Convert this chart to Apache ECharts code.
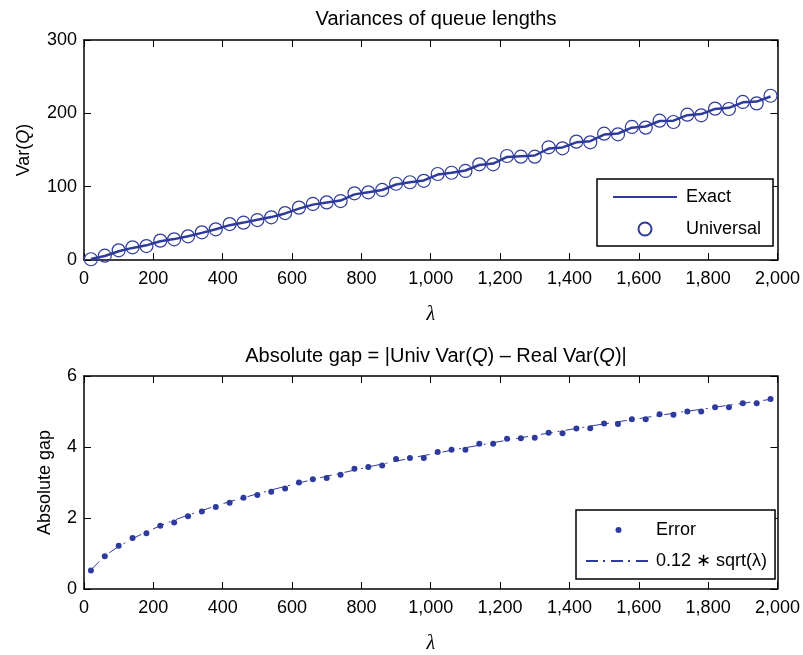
<!DOCTYPE html>
<html>
<head>
<meta charset="utf-8">
<script src="https://cdn.jsdelivr.net/npm/echarts@6/dist/echarts.min.js"></script>
<style>html,body{margin:0;padding:0;background:#fff}#c{width:803px;height:655px}</style>
</head>
<body>
<div id="c"></div>
<script>
const lambdas = [20,60,100,140,180,220,260,300,340,380,420,460,500,540,580,620,660,700,740,780,820,860,900,940,980,1020,1060,1100,1140,1180,1220,1260,1300,1340,1380,1420,1460,1500,1540,1580,1620,1660,1700,1740,1780,1820,1860,1900,1940,1980];
const exactVar = [1.5,5.5,12,16.5,20,25.5,28.5,32.5,37,42,47.5,51,55,58.5,63.5,70,75.5,78.5,81,89.5,92.5,95.5,103,106,108.5,116.5,119,122,129.5,131.5,140.5,141.5,142.5,152,153.5,160.5,162,171,172.5,180.5,182,189.5,190,197.5,199,206,207.5,215,216,223];
const universalVar = [1,5.9,13.2,17.3,19,26.4,28.2,32.3,37.7,41.8,49,50.9,54.5,58.2,64,71.4,76.4,78.6,80.4,90.9,92.3,95.5,104,106,108,117.3,119,121.4,130.5,130.5,141.8,140.9,140.9,153.7,152.3,161.4,160.5,172.3,171.4,181.4,180.5,190,188.2,198.2,197.3,206.4,205.9,215.5,213.6,224];
const errorGap = [0.52,0.92,1.22,1.44,1.57,1.78,1.87,2.05,2.18,2.31,2.43,2.57,2.65,2.74,2.83,3.0,3.09,3.13,3.22,3.39,3.44,3.48,3.66,3.69,3.69,3.86,3.92,3.92,4.09,4.09,4.23,4.25,4.26,4.40,4.39,4.52,4.53,4.66,4.65,4.78,4.78,4.92,4.91,5.0,5.0,5.12,5.12,5.23,5.23,5.35];
const fitGap = [0.54,0.93,1.20,1.42,1.61,1.78,1.94,2.08,2.21,2.34,2.46,2.57,2.68,2.79,2.89,2.99,3.08,3.18,3.26,3.35,3.44,3.52,3.60,3.68,3.76,3.83,3.91,3.98,4.05,4.12,4.19,4.26,4.33,4.39,4.46,4.52,4.59,4.65,4.71,4.77,4.83,4.89,4.95,5.01,5.06,5.12,5.18,5.23,5.29,5.34];
const xTicks = {min: 0, max: 2000, interval: 200};
const topYTicks = {min: 0, max: 300, interval: 100};
const botYTicks = {min: 0, max: 6, interval: 2};

const FONT = '"Liberation Sans", Arial, Helvetica, sans-serif';
const BLUE = '#2f3b9c';
const pair = (xs, ys) => xs.map((x, i) => [x, ys[i]]);
const fmt = v => v.toLocaleString('en-US');

function xAx(grid, bottom) {
  return {
    type: 'value', gridIndex: grid, position: bottom ? 'bottom' : 'top',
    min: xTicks.min, max: xTicks.max, interval: xTicks.interval,
    axisLine: {show: true, onZero: false, lineStyle: {color: '#000', width: 1.5}},
    axisTick: {show: true, inside: true, length: 7, lineStyle: {color: '#000', width: 1}},
    axisLabel: {show: bottom, margin: 10, color: '#000', fontSize: 18, fontFamily: FONT, formatter: fmt},
    splitLine: {show: false},
    name: bottom ? 'λ' : '', nameLocation: 'middle', nameGap: 45,
    nameTextStyle: {color: '#000', fontSize: 20, fontStyle: 'italic', fontFamily: '"Liberation Serif", "DejaVu Serif", serif'}
  };
}
function yAx(grid, left, t, name, gap) {
  return {
    type: 'value', gridIndex: grid, position: left ? 'left' : 'right',
    min: t.min, max: t.max, interval: t.interval,
    axisLine: {show: true, onZero: false, lineStyle: {color: '#000', width: 1.5}},
    axisTick: {show: true, inside: true, length: 7, lineStyle: {color: '#000', width: 1}},
    axisLabel: {show: left, margin: 7, color: '#000', fontSize: 18, fontFamily: FONT},
    splitLine: {show: false},
    name: left ? name : '', nameLocation: 'middle', nameGap: gap, nameRotate: 90,
    nameTextStyle: {color: '#000', fontSize: 18, fontFamily: FONT,
      rich: {i: {fontStyle: 'italic', fontSize: 18, fontFamily: FONT, color: '#000'}}}
  };
}

const chart = echarts.init(document.getElementById('c'), null, {renderer: 'canvas'});
chart.setOption({
  animation: false,
  backgroundColor: '#fff',
  title: [
    {text: 'Variances of queue lengths', left: 431, top: 4, textAlign: 'center',
     textStyle: {fontSize: 20, fontWeight: 'normal', color: '#000', fontFamily: FONT}},
    {text: 'Absolute gap = |Univ Var({i|Q}) – Real Var({i|Q})|', left: 431, top: 341, textAlign: 'center',
     textStyle: {fontSize: 20, fontWeight: 'normal', color: '#000', fontFamily: FONT,
       rich: {i: {fontStyle: 'italic', fontSize: 20, color: '#000', fontFamily: FONT}}}}
  ],
  grid: [
    {left: 84, top: 40, width: 695, height: 220},
    {left: 84, top: 376, width: 695, height: 219}
  ],
  xAxis: [xAx(0, true), xAx(0, false), xAx(1, true), xAx(1, false)],
  yAxis: [yAx(0, true, topYTicks, 'Var({i|Q})', 51), yAx(0, false, topYTicks, '', 0),
          yAx(1, true, botYTicks, 'Absolute gap', 30), yAx(1, false, botYTicks, '', 0)],
  legend: [
    {data: [{name: 'Exact', itemStyle: {opacity: 0}}, 'Universal'], orient: 'vertical', left: 597, top: 179,
     padding: [9, 12, 8, 15], itemWidth: 64, itemHeight: 13, itemGap: 14,
     borderColor: '#000', borderWidth: 1.5, backgroundColor: '#fff', selectedMode: false,
     textStyle: {fontSize: 18, color: '#000', fontFamily: FONT, padding: [0, 0, 0, 4]}},
    {data: ['Error', {name: '0.12 ∗ sqrt(λ)', itemStyle: {opacity: 0}}], orient: 'vertical', left: 576, top: 510,
     padding: [11, 8, 9, 9], itemWidth: 65, itemHeight: 6, itemGap: 13,
     borderColor: '#000', borderWidth: 1.5, backgroundColor: '#fff', selectedMode: false,
     textStyle: {fontSize: 18, color: '#000', fontFamily: FONT}}
  ],
  series: [
    {name: 'Exact', type: 'line', xAxisIndex: 0, yAxisIndex: 0, data: pair(lambdas, exactVar),
     showSymbol: false, symbol: 'none', lineStyle: {color: BLUE, width: 2.5}, itemStyle: {color: BLUE}, z: 2},
    {name: 'Universal', type: 'scatter', xAxisIndex: 0, yAxisIndex: 0, data: pair(lambdas, universalVar),
     symbol: 'circle', symbolSize: 13,
     itemStyle: {color: 'rgba(0,0,0,0)', borderColor: BLUE, borderWidth: 1.2, opacity: 1}, z: 3},
    {name: 'Error', type: 'scatter', xAxisIndex: 2, yAxisIndex: 2, data: pair(lambdas, errorGap),
     symbol: 'circle', symbolSize: 6, itemStyle: {color: BLUE, opacity: 1}, z: 3},
    {name: '0.12 ∗ sqrt(λ)', type: 'line', xAxisIndex: 2, yAxisIndex: 2, data: pair(lambdas, fitGap),
     showSymbol: false, symbol: 'none',
     lineStyle: {color: BLUE, width: 1, type: [12, 5, 2, 6]}, itemStyle: {color: BLUE}, z: 2}
  ]
});
</script>
</body>
</html>
